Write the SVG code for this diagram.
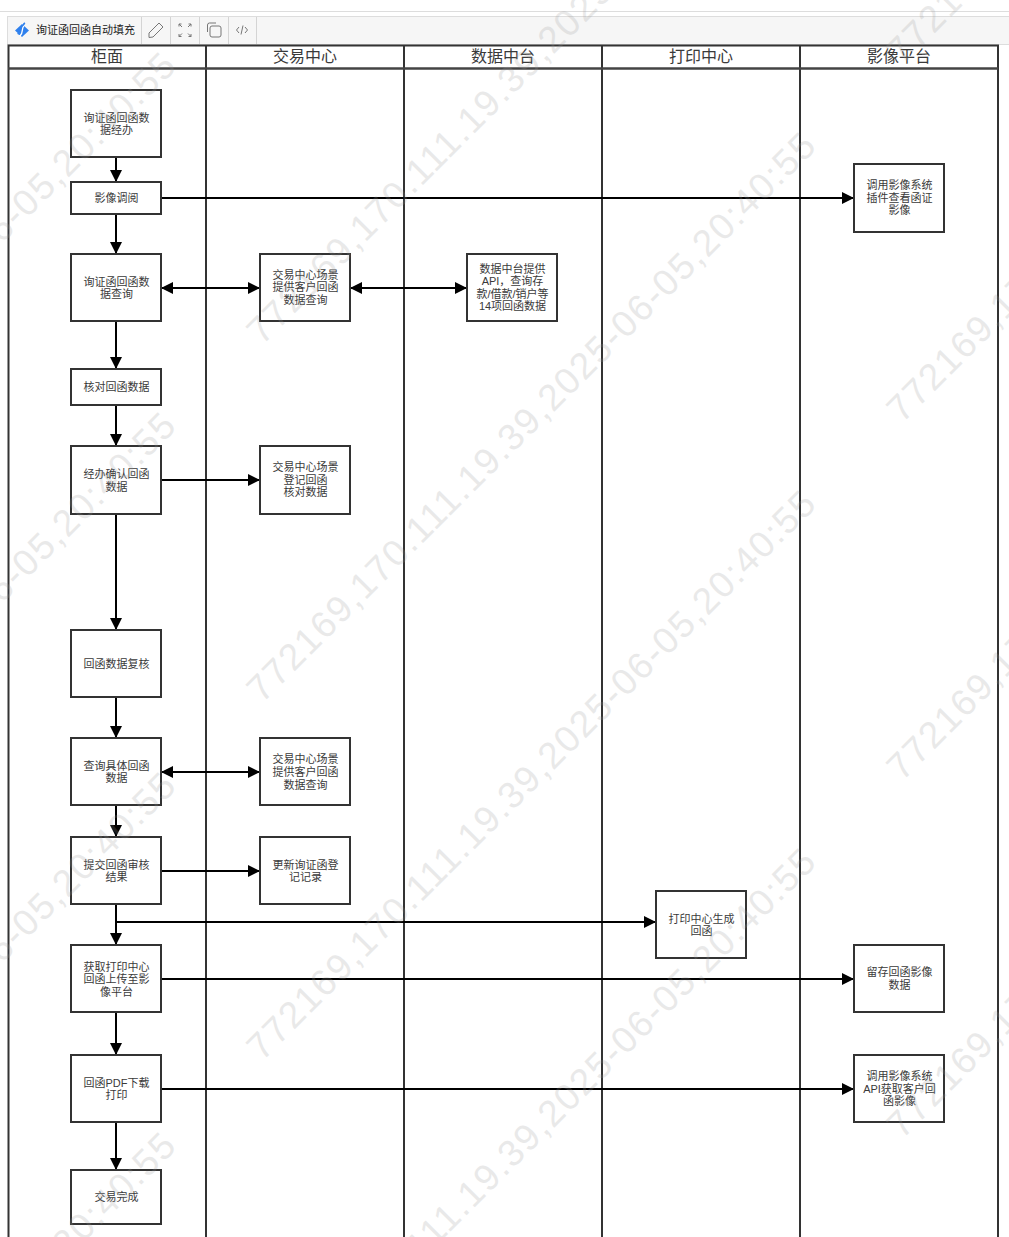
<svg xmlns="http://www.w3.org/2000/svg" width="1009" height="1237" viewBox="0 0 1009 1237">
<style>
text{font-family:"Liberation Sans","Noto Sans CJK SC",sans-serif;fill:#3a3a3a;font-size:11px;text-anchor:middle}
.n rect{fill:#fff;stroke:#333;stroke-width:2}
.h{font-size:16px}
.c line{stroke:#000;stroke-width:2;fill:none}
.l{stroke:#333;stroke-width:2;fill:none}
.ic{stroke:#777;stroke-width:1;fill:none}
.w{font-size:37px;fill:#999;opacity:.21;text-anchor:start}
</style>
<defs>
<marker id="a" markerUnits="userSpaceOnUse" markerWidth="13" markerHeight="13" refX="12" refY="6" orient="auto-start-reverse"><path d="M0 0L12 6L0 12z" fill="#000"/></marker>
</defs>
<rect width="1009" height="1237" fill="#fff"/>
<path d="M0 11.500H1009" stroke="#ddd"/>
<g id="toolbar">
<rect x="7.500" y="16.500" width="1002" height="28" fill="#f6f6f6" stroke="#ddd"/>
<path d="M141.500 17V44M170.500 17V44M199.500 17V44M228.500 17V44M256.500 17V44" stroke="#d4d4d4"/>
<path d="M22 24L29 30.500L22 37L15 30.500z" fill="#2f80ed"/><path d="M25 23C21 25 24 30 21 33C20 35 18 34 18 33" stroke="#2f80ed" stroke-width="1.500" fill="none"/><path d="M24 26C21 28 24 32 20 36" stroke="#fff" stroke-width="1.300" fill="none"/>
<text x="85.500" y="34" style="fill:#222">询证函回函自动填充</text>
<path class="ic" d="M149 33L159 23L163 27L153 37L149 37.500z"/>
<path class="ic" d="M179 24L182 27M179 24V26.500M179 24H181.500M191 24L188 27M191 24V26.500M191 24H188.500M179 36.500L182 33.500M179 36.500V34M179 36.500H181.500M191 36.500L188 33.500M191 36.500V34M191 36.500H188.500"/>
<rect class="ic" x="210" y="26" width="11" height="11" rx="2"/><path class="ic" d="M207.500 32V25Q207.500 23 209.500 23H216"/>
<path class="ic" stroke-width="1.200" d="M239 27L236.500 30L239 33M245 27L247.500 30L245 33M243 25.500L241 34.500"/>
</g>
<g id="swimlanes">
<path class="l" d="M8.500 1237V45.500H998V1237M206 45V1237M404 45V1237M602 45V1237M800 45V1237"/>
<path d="M8 68.500H998" stroke="#444" stroke-width="2.500"/>
<text class="h" x="107" y="62">柜面</text>
<text class="h" x="305" y="62">交易中心</text>
<text class="h" x="503" y="62">数据中台</text>
<text class="h" x="701" y="62">打印中心</text>
<text class="h" x="899" y="62">影像平台</text>
</g>
<g id="connectors" class="c">
<line x1="116" y1="157" x2="116" y2="182" marker-end="url(#a)"/>
<line x1="161" y1="198" x2="854" y2="198" marker-end="url(#a)"/>
<line x1="116" y1="214" x2="116" y2="254" marker-end="url(#a)"/>
<line x1="161" y1="288" x2="260" y2="288" marker-start="url(#a)" marker-end="url(#a)"/>
<line x1="350" y1="288" x2="467" y2="288" marker-start="url(#a)" marker-end="url(#a)"/>
<line x1="116" y1="321" x2="116" y2="369" marker-end="url(#a)"/>
<line x1="116" y1="405" x2="116" y2="446" marker-end="url(#a)"/>
<line x1="161" y1="480" x2="260" y2="480" marker-end="url(#a)"/>
<line x1="116" y1="514" x2="116" y2="630" marker-end="url(#a)"/>
<line x1="116" y1="697" x2="116" y2="738" marker-end="url(#a)"/>
<line x1="161" y1="772" x2="260" y2="772" marker-start="url(#a)" marker-end="url(#a)"/>
<line x1="116" y1="805" x2="116" y2="837" marker-end="url(#a)"/>
<line x1="161" y1="871" x2="260" y2="871" marker-end="url(#a)"/>
<line x1="116" y1="904" x2="116" y2="945" marker-end="url(#a)"/>
<line x1="116" y1="922" x2="656" y2="922" marker-end="url(#a)"/>
<line x1="161" y1="979" x2="854" y2="979" marker-end="url(#a)"/>
<line x1="116" y1="1012" x2="116" y2="1055" marker-end="url(#a)"/>
<line x1="161" y1="1089" x2="854" y2="1089" marker-end="url(#a)"/>
<line x1="116" y1="1122" x2="116" y2="1170" marker-end="url(#a)"/>
</g>
<g id="n1" class="n"><rect x="71" y="90" width="90" height="67"/><text x="116.500" y="122">询证函回函数</text><text x="116.500" y="134">据经办</text></g>
<g id="n2" class="n"><rect x="71" y="182" width="90" height="32"/><text x="116.500" y="202">影像调阅</text></g>
<g id="n3" class="n"><rect x="71" y="254" width="90" height="67"/><text x="116.500" y="286">询证函回函数</text><text x="116.500" y="298">据查询</text></g>
<g id="n4" class="n"><rect x="71" y="369" width="90" height="36"/><text x="116.500" y="391">核对回函数据</text></g>
<g id="n5" class="n"><rect x="71" y="446" width="90" height="68"/><text x="116.500" y="478">经办确认回函</text><text x="116.500" y="491">数据</text></g>
<g id="n6" class="n"><rect x="71" y="630" width="90" height="67"/><text x="116.500" y="668">回函数据复核</text></g>
<g id="n7" class="n"><rect x="71" y="738" width="90" height="67"/><text x="116.500" y="770">查询具体回函</text><text x="116.500" y="782">数据</text></g>
<g id="n8" class="n"><rect x="71" y="837" width="90" height="67"/><text x="116.500" y="869">提交回函审核</text><text x="116.500" y="881">结果</text></g>
<g id="n9" class="n"><rect x="71" y="945" width="90" height="67"/><text x="116.500" y="971">获取打印中心</text><text x="116.500" y="983">回函上传至影</text><text x="116.500" y="996">像平台</text></g>
<g id="n10" class="n"><rect x="71" y="1055" width="90" height="67"/><text x="116.500" y="1087">回函PDF下载</text><text x="116.500" y="1099">打印</text></g>
<g id="n11" class="n"><rect x="71" y="1170" width="90" height="54"/><text x="116.500" y="1201">交易完成</text></g>
<g id="n12" class="n"><rect x="260" y="254" width="90" height="67"/><text x="305.500" y="279">交易中心场景</text><text x="305.500" y="291">提供客户回函</text><text x="305.500" y="304">数据查询</text></g>
<g id="n13" class="n"><rect x="260" y="446" width="90" height="68"/><text x="305.500" y="471">交易中心场景</text><text x="305.500" y="484">登记回函</text><text x="305.500" y="496">核对数据</text></g>
<g id="n14" class="n"><rect x="260" y="738" width="90" height="67"/><text x="305.500" y="763">交易中心场景</text><text x="305.500" y="776">提供客户回函</text><text x="305.500" y="789">数据查询</text></g>
<g id="n15" class="n"><rect x="260" y="837" width="90" height="67"/><text x="305.500" y="869">更新询证函登</text><text x="305.500" y="881">记记录</text></g>
<g id="n16" class="n"><rect x="467" y="254" width="90" height="67"/><text x="512.500" y="273">数据中台提供</text><text x="512.500" y="285">API，查询存</text><text x="512.500" y="298">款/借款/销户等</text><text x="512.500" y="310">14项回函数据</text></g>
<g id="n17" class="n"><rect x="656" y="891" width="90" height="67"/><text x="701.500" y="923">打印中心生成</text><text x="701.500" y="935">回函</text></g>
<g id="n18" class="n"><rect x="854" y="164" width="90" height="68"/><text x="899.500" y="189">调用影像系统</text><text x="899.500" y="202">插件查看函证</text><text x="899.500" y="214">影像</text></g>
<g id="n19" class="n"><rect x="854" y="945" width="90" height="67"/><text x="899.500" y="976">留存回函影像</text><text x="899.500" y="989">数据</text></g>
<g id="n20" class="n"><rect x="854" y="1055" width="90" height="67"/><text x="899.500" y="1080">调用影像系统</text><text x="899.500" y="1093">API获取客户回</text><text x="899.500" y="1105">函影像</text></g>
<g id="watermark">
<text class="w" textLength="786" transform="translate(-378 624) rotate(-45)">772169,170.111.19.39,2025-06-05,20:40:55</text>
<text class="w" textLength="786" transform="translate(-378 984) rotate(-45)">772169,170.111.19.39,2025-06-05,20:40:55</text>
<text class="w" textLength="786" transform="translate(-378 1344) rotate(-45)">772169,170.111.19.39,2025-06-05,20:40:55</text>
<text class="w" textLength="786" transform="translate(-378 1704) rotate(-45)">772169,170.111.19.39,2025-06-05,20:40:55</text>
<text class="w" textLength="786" transform="translate(262 346) rotate(-45)">772169,170.111.19.39,2025-06-05,20:40:55</text>
<text class="w" textLength="786" transform="translate(262 704) rotate(-45)">772169,170.111.19.39,2025-06-05,20:40:55</text>
<text class="w" textLength="786" transform="translate(262 1062) rotate(-45)">772169,170.111.19.39,2025-06-05,20:40:55</text>
<text class="w" textLength="786" transform="translate(262 1420) rotate(-45)">772169,170.111.19.39,2025-06-05,20:40:55</text>
<text class="w" textLength="786" transform="translate(902 66) rotate(-45)">772169,170.111.19.39,2025-06-05,20:40:55</text>
<text class="w" textLength="786" transform="translate(902 424) rotate(-45)">772169,170.111.19.39,2025-06-05,20:40:55</text>
<text class="w" textLength="786" transform="translate(902 782) rotate(-45)">772169,170.111.19.39,2025-06-05,20:40:55</text>
<text class="w" textLength="786" transform="translate(902 1140) rotate(-45)">772169,170.111.19.39,2025-06-05,20:40:55</text>
</g>
</svg>
